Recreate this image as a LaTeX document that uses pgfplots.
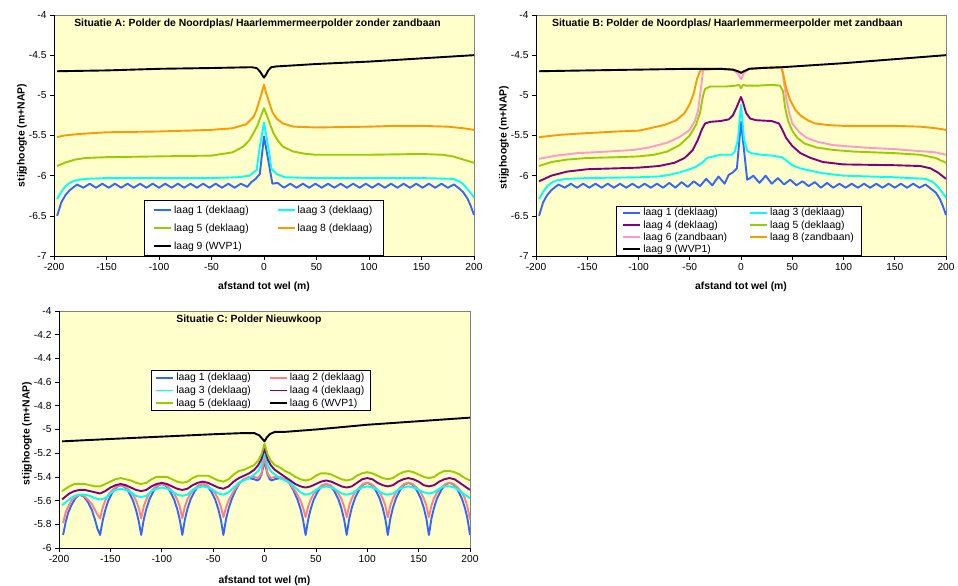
\documentclass[border=0pt]{standalone}
\usepackage{fontspec}
\setmainfont{Liberation Sans}
\usepackage{pgfplots}
\pgfplotsset{compat=1.18}
\definecolor{bgy}{HTML}{FFFFCC}
\definecolor{cblue}{HTML}{3366FF}
\definecolor{ccyan}{HTML}{00FFFF}
\definecolor{cgreen}{HTML}{99CC00}
\definecolor{corange}{HTML}{FF9900}
\definecolor{cpurple}{HTML}{800080}
\definecolor{cpink}{HTML}{FF99CC}
\definecolor{csalmon}{HTML}{FF8080}
\newcommand{\lfont}{\fontsize{10.4}{12}\selectfont}
\pgfplotsset{
  excel/.style={
    scale only axis,
    xmin=-200,xmax=200,
    xtick={-200,-150,-100,-50,0,50,100,150,200},
    axis lines=left,
    axis line style={-,black,line width=0.8pt},
    axis background/.style={fill=bgy,draw=gray,line width=0.8pt},
    tick align=outside, major tick length=4pt,
    tick style={black,line width=0.6pt},
    ticklabel style={font=\fontsize{10.2}{12}\selectfont},
    /pgf/number format/assume math mode=true,
    /pgf/number format/fixed,
    every axis x label/.style={at={(axis description cs:0.5,0)},anchor=center,yshift=-31pt,font=\bfseries\lfont},
    every axis y label/.style={at={(axis description cs:0,0.5)},anchor=center,xshift=-32pt,rotate=90,font=\bfseries\lfont},
    xlabel={afstand tot wel (m)},
    ylabel={stijghoogte (m+NAP)},
    legend cell align=left,
    legend style={draw=black,line width=0.8pt,fill=white,font=\lfont},
    legend image code/.code={\draw[#1] (0pt,0pt) -- (17pt,0pt);},
  },
  s/.style={line width=1.9pt,no markers,line join=round},
}
\begin{document}
\begin{tikzpicture}
\path[use as bounding box] (0,0) rectangle (958pt,586pt);
% ---------------- Panel A
\begin{axis}[excel,at={(54pt,330pt)},anchor=south west,width=420pt,height=241pt,
  ymin=-7,ymax=-4,ytick={-7,-6.5,-6,-5.5,-5,-4.5,-4},
  legend columns=2,
  legend style={at={(0.214,0)},anchor=south west,row sep=5pt,inner xsep=9pt,inner ysep=3pt,
    /tikz/every even column/.append style={column sep=26pt}}]
\addplot[s,cblue] coordinates {(-197,-6.50) (-193,-6.33) (-189,-6.24) (-185,-6.18) (-181,-6.14) (-178,-6.11) (-172,-6.15) (-166,-6.10) (-160,-6.15) (-154,-6.10) (-148,-6.15) (-142,-6.10) (-136,-6.15) (-130,-6.10) (-124,-6.15) (-118,-6.10) (-112,-6.15) (-106,-6.10) (-100,-6.15) (-94,-6.10) (-88,-6.15) (-82,-6.10) (-76,-6.15) (-70,-6.10) (-64,-6.15) (-58,-6.10) (-52,-6.15) (-46,-6.10) (-40,-6.15) (-34,-6.10) (-28,-6.15) (-22,-6.10) (-16,-6.14) (-12,-6.08) (-8,-6.04) (-4,-5.98) (0,-5.51) (8,-6.10) (13,-6.09) (19,-6.15) (25,-6.10) (31,-6.15) (37,-6.10) (43,-6.15) (49,-6.10) (55,-6.15) (61,-6.10) (67,-6.15) (73,-6.10) (79,-6.15) (85,-6.10) (91,-6.15) (97,-6.10) (103,-6.15) (109,-6.10) (115,-6.15) (121,-6.10) (127,-6.15) (133,-6.10) (139,-6.15) (145,-6.10) (151,-6.15) (157,-6.10) (163,-6.15) (169,-6.10) (175,-6.15) (181,-6.11) (186,-6.16) (190,-6.21) (194,-6.29) (197,-6.38) (200,-6.49)};
\addlegendentry{laag 1 (deklaag)}
\addplot[s,ccyan] coordinates {(-197,-6.29) (-193,-6.20) (-189,-6.13) (-185,-6.09) (-180,-6.06) (-170,-6.04) (-150,-6.03) (-100,-6.03) (-50,-6.03) (-25,-6.02) (-14,-6.00) (-7,-5.93) (-4,-5.64) (0,-5.34) (4,-5.64) (7,-5.91) (12,-5.98) (20,-6.02) (50,-6.03) (100,-6.03) (150,-6.03) (180,-6.04) (186,-6.07) (190,-6.11) (194,-6.17) (197,-6.22) (200,-6.27)};
\addlegendentry{laag 3 (deklaag)}
\addplot[s,cgreen] coordinates {(-197,-5.88) (-190,-5.84) (-180,-5.80) (-170,-5.78) (-150,-5.77) (-100,-5.76) (-50,-5.75) (-30,-5.71) (-20,-5.64) (-14,-5.56) (-10,-5.47) (-6,-5.37) (-3,-5.26) (0,-5.16) (3,-5.26) (6,-5.37) (9,-5.47) (13,-5.56) (18,-5.64) (28,-5.70) (40,-5.73) (50,-5.74) (100,-5.74) (150,-5.73) (170,-5.74) (180,-5.76) (190,-5.80) (200,-5.84)};
\addlegendentry{laag 5 (deklaag)}
\addplot[s,corange] coordinates {(-197,-5.52) (-190,-5.50) (-175,-5.48) (-150,-5.46) (-100,-5.45) (-50,-5.43) (-30,-5.41) (-17,-5.36) (-10,-5.27) (-7,-5.18) (-4,-5.05) (-2,-4.96) (0,-4.87) (2,-4.97) (4,-5.05) (8,-5.21) (12,-5.29) (18,-5.35) (28,-5.39) (50,-5.40) (100,-5.39) (125,-5.38) (150,-5.38) (175,-5.39) (190,-5.41) (200,-5.43)};
\addlegendentry{laag 8 (deklaag)}
\addplot[s,black] coordinates {(-197,-4.70) (-150,-4.69) (-100,-4.67) (-50,-4.66) (-12,-4.65) (-7,-4.66) (-4,-4.70) (-2,-4.74) (0,-4.78) (2,-4.74) (4,-4.69) (7,-4.65) (12,-4.64) (25,-4.63) (50,-4.61) (100,-4.58) (150,-4.54) (200,-4.50)};
\addlegendentry{laag 9 (WVP1)}
\node[font=\bfseries\lfont] at (rel axis cs:0.4845,0.963) {Situatie A: Polder de Noordplas/ Haarlemmermeerpolder zonder zandbaan};
\end{axis}
% ---------------- Panel B
\begin{axis}[excel,at={(536pt,330pt)},anchor=south west,width=410pt,height=241pt,
  ymin=-7,ymax=-4,ytick={-7,-6.5,-6,-5.5,-5,-4.5,-4},
  every axis y label/.append style={xshift=-2pt},
  legend columns=2,
  legend style={at={(0.195,0)},anchor=south west,row sep=-1pt,inner xsep=6pt,inner ysep=0pt,
    /tikz/every even column/.append style={column sep=20pt}}]
\addplot[s,cblue] coordinates {(-197,-6.50) (-193,-6.33) (-189,-6.24) (-185,-6.18) (-181,-6.14) (-178,-6.11) (-172,-6.15) (-166,-6.10) (-160,-6.15) (-154,-6.10) (-148,-6.15) (-142,-6.10) (-136,-6.15) (-130,-6.10) (-124,-6.15) (-118,-6.10) (-112,-6.15) (-106,-6.10) (-100,-6.15) (-94,-6.10) (-88,-6.15) (-82,-6.10) (-76,-6.15) (-70,-6.09) (-64,-6.15) (-58,-6.08) (-52,-6.14) (-46,-6.07) (-40,-6.13) (-34,-6.04) (-28,-6.12) (-22,-6.01) (-16,-6.10) (-12,-5.99) (-8,-5.96) (-4,-5.91) (0,-5.33) (6,-6.05) (9,-6.03) (12,-6.00) (18,-6.09) (24,-6.00) (30,-6.10) (36,-6.03) (42,-6.11) (48,-6.05) (54,-6.12) (60,-6.07) (66,-6.13) (72,-6.08) (78,-6.15) (84,-6.09) (90,-6.15) (96,-6.10) (102,-6.15) (108,-6.10) (114,-6.15) (120,-6.10) (126,-6.15) (132,-6.10) (138,-6.15) (144,-6.10) (150,-6.15) (156,-6.10) (162,-6.15) (168,-6.10) (174,-6.15) (180,-6.11) (185,-6.16) (190,-6.21) (194,-6.29) (197,-6.38) (200,-6.49)};
\addlegendentry{laag 1 (deklaag)}
\addplot[s,ccyan] coordinates {(-197,-6.29) (-193,-6.20) (-189,-6.13) (-185,-6.09) (-180,-6.06) (-170,-6.04) (-150,-6.03) (-100,-6.02) (-80,-6.01) (-70,-5.99) (-60,-5.96) (-50,-5.92) (-44,-5.89) (-38,-5.84) (-33,-5.78) (-27,-5.76) (-20,-5.74) (-14,-5.74) (-9,-5.74) (-6,-5.70) (-3,-5.55) (0,-5.12) (3,-5.55) (6,-5.69) (10,-5.72) (20,-5.74) (30,-5.75) (40,-5.77) (45,-5.82) (50,-5.87) (58,-5.91) (65,-5.93) (80,-5.97) (100,-6.00) (150,-6.02) (180,-6.04) (186,-6.07) (190,-6.11) (194,-6.17) (197,-6.22) (200,-6.27)};
\addlegendentry{laag 3 (deklaag)}
\addplot[s,cpurple] coordinates {(-197,-6.07) (-185,-6.00) (-170,-5.95) (-150,-5.92) (-100,-5.90) (-80,-5.88) (-65,-5.84) (-55,-5.78) (-47,-5.68) (-42,-5.55) (-38,-5.42) (-35,-5.35) (-30,-5.33) (-20,-5.32) (-12,-5.30) (-8,-5.25) (-5,-5.17) (-2,-5.08) (0,-5.02) (2,-5.09) (5,-5.22) (9,-5.29) (15,-5.31) (30,-5.32) (37,-5.35) (40,-5.42) (44,-5.53) (50,-5.63) (58,-5.72) (68,-5.78) (80,-5.83) (100,-5.86) (150,-5.87) (175,-5.88) (185,-5.91) (192,-5.96) (200,-6.04)};
\addlegendentry{laag 4 (deklaag)}
\addplot[s,cgreen] coordinates {(-197,-5.88) (-185,-5.83) (-170,-5.80) (-150,-5.78) (-120,-5.77) (-100,-5.76) (-85,-5.74) (-72,-5.70) (-60,-5.62) (-50,-5.50) (-44,-5.37) (-40,-5.22) (-37,-5.00) (-35,-4.92) (-30,-4.89) (-15,-4.89) (-5,-4.88) (-2,-4.87) (0,-4.91) (2,-4.87) (5,-4.88) (15,-4.88) (30,-4.87) (38,-4.88) (41,-4.95) (43,-5.15) (46,-5.32) (50,-5.44) (55,-5.53) (62,-5.60) (74,-5.65) (90,-5.68) (110,-5.70) (150,-5.72) (175,-5.74) (190,-5.78) (200,-5.84)};
\addlegendentry{laag 5 (deklaag)}
\addplot[s,cpink] coordinates {(-197,-5.79) (-180,-5.75) (-160,-5.72) (-130,-5.70) (-105,-5.68) (-90,-5.65) (-72,-5.59) (-60,-5.52) (-50,-5.43) (-45,-5.32) (-42,-5.20) (-40,-5.00) (-38,-4.80) (-37,-4.68) (-20,-4.67) (-8,-4.68) (-3,-4.73) (0,-4.80) (3,-4.72) (8,-4.67) (20,-4.66) (40,-4.65) (42,-4.85) (44.5,-5.06) (47,-5.22) (50,-5.35) (57,-5.46) (64,-5.53) (75,-5.58) (90,-5.62) (120,-5.65) (150,-5.67) (180,-5.70) (190,-5.71) (200,-5.74)};
\addlegendentry{laag 6 (zandbaan)}
\addplot[s,corange] coordinates {(-197,-5.52) (-175,-5.49) (-150,-5.47) (-120,-5.45) (-100,-5.44) (-89,-5.41) (-75,-5.37) (-63,-5.31) (-55,-5.22) (-50,-5.11) (-46,-4.97) (-43,-4.80) (-40,-4.70) (-38,-4.68) (-20,-4.67) (-8,-4.68) (-3,-4.70) (0,-4.72) (3,-4.70) (8,-4.67) (20,-4.66) (39,-4.65) (41,-4.72) (43,-4.85) (45,-4.95) (48,-5.06) (53,-5.18) (58,-5.25) (65,-5.31) (72,-5.35) (85,-5.37) (100,-5.38) (150,-5.38) (175,-5.39) (190,-5.41) (200,-5.43)};
\addlegendentry{laag 8 (zandbaan)}
\addplot[s,black] coordinates {(-197,-4.70) (-150,-4.69) (-100,-4.68) (-50,-4.67) (-20,-4.67) (-8,-4.68) (-3,-4.70) (0,-4.72) (3,-4.70) (8,-4.67) (20,-4.66) (40,-4.65) (100,-4.60) (150,-4.55) (200,-4.50)};
\addlegendentry{laag 9 (WVP1)}
\node[font=\bfseries\lfont] at (rel axis cs:0.467,0.963) {Situatie B: Polder de Noordplas/ Haarlemmermeerpolder met zandbaan};
\end{axis}
% ---------------- Panel C
\begin{axis}[excel,at={(59pt,38pt)},anchor=south west,width=411pt,height=237pt,
  ymin=-6,ymax=-4,ytick={-6,-5.8,-5.6,-5.4,-5.2,-5,-4.8,-4.6,-4.4,-4.2,-4},
  every axis x label/.append style={yshift=-2pt},
  every axis y label/.append style={xshift=-4pt},
  legend columns=2,
  legend style={at={(0.224,0.751)},anchor=north west,row sep=-0.5pt,inner xsep=4pt,inner ysep=1pt,
    /tikz/every even column/.append style={column sep=16pt}}]
\addplot[s,cblue] coordinates {(-196,-5.89) (-193.5,-5.78) (-191,-5.70) (-188,-5.64) (-184,-5.58) (-180,-5.55) (-176,-5.565) (-172,-5.61) (-168,-5.68) (-165,-5.76) (-162.5,-5.84) (-160,-5.89)
(-157.5,-5.77) (-155,-5.68) (-152,-5.60) (-148,-5.53) (-144,-5.485) (-140,-5.47) (-136,-5.485) (-132,-5.53) (-128,-5.60) (-125,-5.68) (-122.5,-5.77) (-120,-5.89)
(-117.5,-5.76) (-115,-5.67) (-112,-5.59) (-108,-5.52) (-104,-5.475) (-100,-5.46) (-96,-5.475) (-92,-5.52) (-88,-5.59) (-85,-5.67) (-82.5,-5.76) (-80,-5.89)
(-77.5,-5.76) (-75,-5.67) (-72,-5.59) (-68,-5.52) (-64,-5.475) (-60,-5.46) (-56,-5.475) (-52,-5.52) (-48,-5.59) (-45,-5.67) (-42.5,-5.76) (-40,-5.89)
(-37.5,-5.76) (-35,-5.67) (-32,-5.59) (-28,-5.51) (-24,-5.45) (-20,-5.42) (-15,-5.41) (-10,-5.42) (-7,-5.43) (-5,-5.42) (-3,-5.38) (0,-5.27) (3,-5.38) (5,-5.42) (7,-5.43) (10,-5.42) (15,-5.41) (20,-5.42) (24,-5.45) (28,-5.51) (32,-5.59) (35,-5.67) (37.5,-5.76) (40,-5.89)
(42.5,-5.76) (45,-5.67) (48,-5.59) (52,-5.52) (56,-5.475) (60,-5.46) (64,-5.475) (68,-5.52) (72,-5.59) (75,-5.67) (77.5,-5.76) (80,-5.89)
(82.5,-5.75) (85,-5.66) (88,-5.58) (92,-5.51) (96,-5.465) (100,-5.45) (104,-5.465) (108,-5.51) (112,-5.58) (115,-5.66) (117.5,-5.75) (120,-5.89)
(122.5,-5.75) (125,-5.66) (128,-5.58) (132,-5.51) (136,-5.465) (140,-5.45) (144,-5.465) (148,-5.51) (152,-5.58) (155,-5.66) (157.5,-5.75) (160,-5.89)
(162.5,-5.75) (165,-5.66) (168,-5.58) (172,-5.51) (176,-5.465) (180,-5.45) (184,-5.465) (188,-5.51) (192,-5.58) (195,-5.66) (197.5,-5.75) (200,-5.89)};
\addlegendentry{laag 1 (deklaag)}
\addplot[s,csalmon] coordinates {(-196,-5.79) (-193.5,-5.70) (-191,-5.65) (-188,-5.60) (-184,-5.57) (-180,-5.55) (-176,-5.56) (-172,-5.59) (-168,-5.63) (-165,-5.68) (-162.5,-5.72) (-160,-5.75)
(-157.5,-5.66) (-155,-5.60) (-152,-5.55) (-148,-5.51) (-144,-5.48) (-140,-5.47) (-136,-5.48) (-132,-5.51) (-128,-5.55) (-125,-5.60) (-122.5,-5.66) (-120,-5.75)
(-117.5,-5.65) (-115,-5.59) (-112,-5.54) (-108,-5.50) (-104,-5.47) (-100,-5.46) (-96,-5.47) (-92,-5.50) (-88,-5.54) (-85,-5.59) (-82.5,-5.65) (-80,-5.75)
(-77.5,-5.65) (-75,-5.59) (-72,-5.54) (-68,-5.50) (-64,-5.47) (-60,-5.46) (-56,-5.47) (-52,-5.50) (-48,-5.54) (-45,-5.59) (-42.5,-5.65) (-40,-5.74)
(-37.5,-5.66) (-35,-5.60) (-30,-5.52) (-25,-5.46) (-20,-5.42) (-15,-5.40) (-10,-5.40) (-6,-5.41) (-3,-5.37) (0,-5.23) (3,-5.37) (6,-5.41) (10,-5.40) (15,-5.40) (20,-5.42) (25,-5.46) (30,-5.52) (35,-5.60) (37.5,-5.66) (40,-5.74)
(42.5,-5.65) (45,-5.59) (48,-5.54) (52,-5.50) (56,-5.47) (60,-5.46) (64,-5.47) (68,-5.50) (72,-5.54) (75,-5.59) (77.5,-5.65) (80,-5.74)
(82.5,-5.64) (85,-5.58) (88,-5.53) (92,-5.49) (96,-5.46) (100,-5.45) (104,-5.46) (108,-5.49) (112,-5.53) (115,-5.58) (117.5,-5.64) (120,-5.74)
(122.5,-5.64) (125,-5.58) (128,-5.53) (132,-5.49) (136,-5.46) (140,-5.45) (144,-5.46) (148,-5.49) (152,-5.53) (155,-5.58) (157.5,-5.64) (160,-5.74)
(162.5,-5.64) (165,-5.58) (168,-5.53) (172,-5.49) (176,-5.46) (180,-5.45) (184,-5.46) (188,-5.49) (192,-5.53) (195,-5.58) (197.5,-5.65) (200,-5.76)};
\addlegendentry{laag 2 (deklaag)}
\addplot[s,ccyan] coordinates {(-197,-5.64) (-190,-5.59) (-185,-5.56) (-180,-5.55) (-175,-5.55) (-170,-5.56) (-165,-5.58) (-160,-5.59) (-155,-5.58) (-150,-5.54) (-145,-5.51) (-140,-5.50) (-135,-5.51) (-130,-5.53) (-125,-5.56) (-120,-5.57) (-115,-5.56) (-110,-5.52) (-105,-5.50) (-100,-5.49) (-95,-5.50) (-90,-5.52) (-85,-5.55) (-80,-5.56) (-75,-5.55) (-70,-5.51) (-65,-5.49) (-60,-5.48) (-55,-5.49) (-50,-5.51) (-45,-5.54) (-40,-5.55) (-35,-5.53) (-30,-5.49) (-25,-5.45) (-20,-5.43) (-15,-5.41) (-10,-5.38) (-6,-5.35) (-3,-5.30) (0,-5.18) (3,-5.30) (6,-5.35) (10,-5.38) (15,-5.41) (20,-5.43) (25,-5.45) (30,-5.49) (35,-5.53) (40,-5.55) (45,-5.54) (50,-5.51) (55,-5.49) (60,-5.48) (65,-5.49) (70,-5.51) (75,-5.54) (80,-5.55) (85,-5.54) (90,-5.51) (95,-5.49) (100,-5.48) (105,-5.49) (110,-5.51) (115,-5.54) (120,-5.55) (125,-5.54) (130,-5.51) (135,-5.49) (140,-5.48) (145,-5.49) (150,-5.51) (155,-5.53) (160,-5.54) (165,-5.53) (170,-5.50) (175,-5.48) (180,-5.48) (185,-5.49) (190,-5.52) (195,-5.55) (200,-5.58)};
\addlegendentry{laag 3 (deklaag)}
\addplot[s,cpurple] coordinates {(-197,-5.59) (-190,-5.54) (-185,-5.52) (-180,-5.51) (-175,-5.51) (-170,-5.52) (-165,-5.53) (-160,-5.54) (-155,-5.52) (-150,-5.49) (-145,-5.47) (-140,-5.46) (-135,-5.47) (-130,-5.49) (-125,-5.51) (-120,-5.52) (-115,-5.51) (-110,-5.48) (-105,-5.46) (-100,-5.45) (-95,-5.46) (-90,-5.48) (-85,-5.50) (-80,-5.51) (-75,-5.50) (-70,-5.47) (-65,-5.45) (-60,-5.44) (-55,-5.45) (-50,-5.47) (-45,-5.49) (-40,-5.50) (-35,-5.48) (-30,-5.44) (-25,-5.41) (-20,-5.39) (-15,-5.37) (-10,-5.34) (-6,-5.30) (-3,-5.25) (0,-5.16) (3,-5.25) (6,-5.30) (10,-5.34) (15,-5.37) (20,-5.40) (25,-5.43) (30,-5.46) (35,-5.48) (40,-5.49) (45,-5.48) (50,-5.46) (55,-5.44) (60,-5.43) (65,-5.44) (70,-5.46) (75,-5.48) (80,-5.49) (85,-5.48) (90,-5.45) (95,-5.42) (100,-5.41) (105,-5.42) (110,-5.45) (115,-5.47) (120,-5.48) (125,-5.47) (130,-5.44) (135,-5.42) (140,-5.41) (145,-5.42) (150,-5.44) (155,-5.47) (160,-5.48) (165,-5.47) (170,-5.44) (175,-5.42) (180,-5.41) (185,-5.42) (190,-5.45) (195,-5.48) (200,-5.51)};
\addlegendentry{laag 4 (deklaag)}
\addplot[s,cgreen] coordinates {(-197,-5.52) (-190,-5.48) (-185,-5.46) (-180,-5.46) (-175,-5.46) (-170,-5.47) (-165,-5.48) (-160,-5.48) (-155,-5.46) (-150,-5.44) (-145,-5.42) (-140,-5.41) (-135,-5.42) (-130,-5.43) (-125,-5.45) (-120,-5.46) (-115,-5.45) (-110,-5.42) (-105,-5.40) (-100,-5.40) (-95,-5.40) (-90,-5.42) (-85,-5.44) (-80,-5.45) (-75,-5.44) (-70,-5.41) (-65,-5.39) (-60,-5.39) (-55,-5.39) (-50,-5.41) (-45,-5.43) (-40,-5.44) (-35,-5.42) (-30,-5.38) (-25,-5.35) (-20,-5.34) (-15,-5.32) (-10,-5.30) (-6,-5.26) (-3,-5.21) (0,-5.12) (3,-5.21) (6,-5.26) (10,-5.30) (15,-5.32) (20,-5.35) (25,-5.37) (30,-5.40) (35,-5.42) (40,-5.43) (45,-5.42) (50,-5.39) (55,-5.37) (60,-5.37) (65,-5.38) (70,-5.40) (75,-5.42) (80,-5.43) (85,-5.42) (90,-5.39) (95,-5.37) (100,-5.36) (105,-5.37) (110,-5.39) (115,-5.41) (120,-5.42) (125,-5.41) (130,-5.38) (135,-5.36) (140,-5.35) (145,-5.36) (150,-5.38) (155,-5.40) (160,-5.41) (165,-5.40) (170,-5.37) (175,-5.35) (180,-5.35) (185,-5.36) (190,-5.38) (195,-5.41) (200,-5.43)};
\addlegendentry{laag 5 (deklaag)}
\addplot[s,black] coordinates {(-197,-5.10) (-150,-5.08) (-100,-5.06) (-50,-5.04) (-20,-5.03) (-10,-5.03) (-5,-5.05) (-2,-5.08) (0,-5.10) (2,-5.07) (5,-5.04) (10,-5.02) (20,-5.02) (50,-5.00) (100,-4.96) (150,-4.93) (200,-4.90)};
\addlegendentry{laag 6 (WVP1)}
\node[font=\bfseries\lfont] at (rel axis cs:0.462,0.962) {Situatie C: Polder Nieuwkoop};
\end{axis}
\end{tikzpicture}
\end{document}
